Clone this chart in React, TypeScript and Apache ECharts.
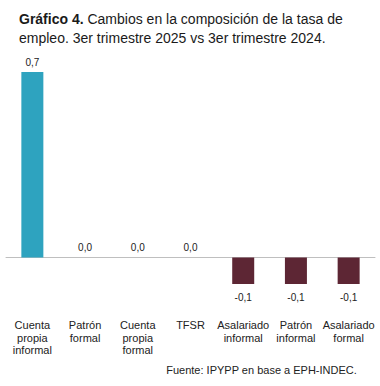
import React, { useEffect, useRef } from "react";
import * as echarts from "echarts";

const categories = [
  "Cuenta\npropia\ninformal",
  "Patrón\nformal",
  "Cuenta\npropia\nformal",
  "TFSR",
  "Asalariado\ninformal",
  "Patrón\ninformal",
  "Asalariado\nformal",
];
const values = [0.7, 0.0, 0.0, 0.0, -0.1, -0.1, -0.1];
const posColor = "#2ea3bf";
const negColor = "#5d2634";
const FONT = "Liberation Sans, Arial, sans-serif";

export default function App() {
  const ref = useRef<HTMLDivElement>(null);
  useEffect(() => {
    const chart = echarts.init(ref.current!, null, { renderer: "svg" });
    chart.setOption({
      animation: false,
      textStyle: { fontFamily: FONT },
      title: [
        {
          left: 14,
          top: 4,
          text: "{b|Gráfico 4.} Cambios en la composición de la tasa de\nempleo. 3er trimestre 2025 vs 3er trimestre 2024.",
          textStyle: {
            fontFamily: FONT,
            fontSize: 14,
            fontWeight: "normal",
            color: "#1a1a1a",
            lineHeight: 19,
            rich: {
              b: { fontFamily: FONT, fontSize: 14, fontWeight: "bold", color: "#1a1a1a", lineHeight: 19 },
            },
          },
        },
        {
          right: 18,
          top: 359,
          text: "Fuente: IPYPP en base a EPH-INDEC.",
          textStyle: { fontFamily: FONT, fontSize: 11, fontWeight: "normal", color: "#222" },
        },
      ],
      grid: { left: 6, right: 5, top: 72, bottom: 102, containLabel: false },
      xAxis: {
        type: "category",
        data: categories,
        axisLine: { onZero: true, lineStyle: { color: "#bfbfbf", width: 1 } },
        axisTick: { show: false },
        axisLabel: {
          interval: 0,
          margin: 35,
          fontFamily: FONT,
          fontSize: 11,
          color: "#222",
          lineHeight: 12.5,
          verticalAlign: "top",
        },
      },
      yAxis: {
        type: "value",
        min: -0.1,
        max: 0.7,
        show: false,
        splitLine: { show: false },
      },
      series: [
        {
          type: "bar",
          barWidth: 22,
          data: values.map((v) => ({
            value: v,
            itemStyle: { color: v < 0 ? negColor : posColor },
            label: { position: v < 0 ? "bottom" : "top", distance: v < 0 ? 8 : 5 },
          })),
          label: {
            show: true,
            fontFamily: FONT,
            fontSize: 10,
            color: "#222",
            formatter: (p: any) => Number(p.value).toFixed(1).replace(".", ","),
          },
        },
      ],
    });
    return () => chart.dispose();
  }, []);
  return <div ref={ref} style={{ width: 380, height: 386, position: "absolute", left: 0, top: 0 }} />;
}
